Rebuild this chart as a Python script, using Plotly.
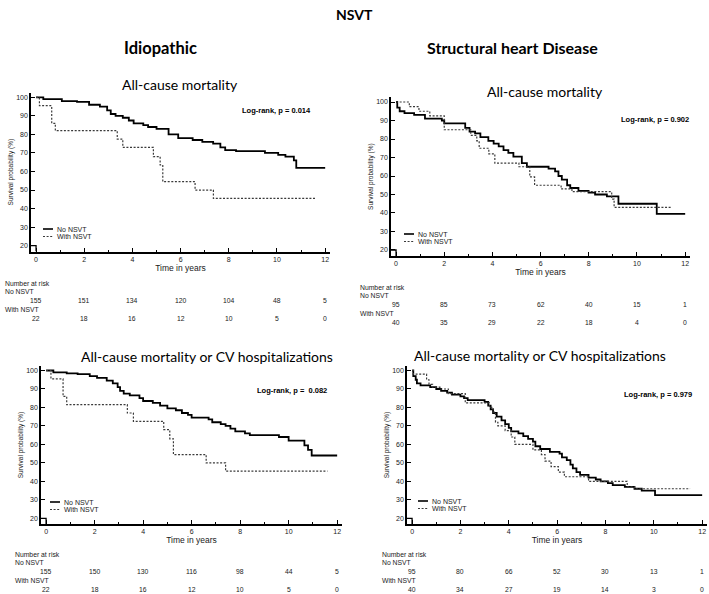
import plotly.graph_objects as go

W, H = 709, 594

# ---------------- data ----------------
# Panel 1: Idiopathic, All-cause mortality
p1_no_t = [0, 0.3, 1.07, 1.7, 2.2, 2.65, 2.95, 3.1, 3.3, 3.6, 3.85, 4.05, 4.45, 4.65, 5.0, 5.5, 5.9, 6.5, 6.9, 7.35, 7.65, 7.85, 8.3, 9.5, 10.05, 10.35, 10.7, 10.8, 12.0]
p1_no_s = [100, 99, 98, 97.5, 96, 95, 93, 91, 90, 89, 87.5, 86, 85, 84, 83, 80, 78, 77, 76, 75, 73, 71.5, 71, 70, 69, 68, 66, 62, 62]
p1_w_t = [0, 0.14, 0.65, 0.8, 3.37, 3.6, 4.87, 5.15, 5.26, 6.6, 7.36, 11.6]
p1_w_s = [100, 95.5, 86, 82, 77.5, 73, 68, 63.5, 54.5, 50, 45.5, 45.5]

# Panel 2: Structural heart disease, All-cause mortality
p2_no_t = [0, 0.05, 0.15, 0.35, 0.75, 1.2, 1.9, 2.0, 2.87, 3.05, 3.28, 3.5, 3.83, 4.05, 4.26, 4.46, 4.66, 4.87, 5.22, 5.43, 6.33, 6.6, 6.74, 6.88, 7.1, 7.23, 7.57, 7.99, 8.26, 8.75, 9.23, 10.82, 12.0]
p2_no_s = [100, 97, 95, 94, 93, 91, 90, 88.5, 86, 84, 83, 81, 79, 77.5, 76, 74, 72.5, 70.5, 67, 65, 64, 62.5, 60, 58, 55, 53.5, 52, 51, 50, 49, 45, 39.5, 39.5]
p2_w_t = [0, 0.55, 0.95, 1.4, 2.0, 3.1, 3.35, 3.45, 3.85, 4.1, 5.1, 5.55, 5.75, 6.85, 7.3, 8.95, 9.05, 11.45]
p2_w_s = [100, 97.5, 95, 92.5, 85, 82, 79, 75, 72, 67, 65, 59.5, 55, 53, 51.5, 47.5, 43, 43]

# Panel 3: Idiopathic, All-cause mortality or CV hospitalizations
p3_no_t = [0, 0.3, 0.85, 1.3, 1.8, 2.1, 2.5, 2.75, 2.95, 3.05, 3.2, 3.45, 3.85, 4.0, 4.4, 4.7, 5.0, 5.35, 5.6, 5.85, 6.0, 6.7, 6.85, 7.2, 7.4, 7.6, 7.8, 8.2, 8.4, 9.6, 10.0, 10.65, 10.8, 10.95, 12.0]
p3_no_s = [100, 99, 98.5, 98, 97, 96, 94.5, 93, 91, 89, 87.5, 86.5, 85, 83.5, 82.5, 81, 79.5, 78.5, 77, 76, 74.5, 73.5, 72, 71, 70, 68.5, 67, 66, 65, 64, 62, 59.5, 57, 54, 54]
p3_w_t = [0, 0.2, 0.7, 0.85, 3.35, 3.6, 4.85, 5.1, 5.25, 6.6, 7.4, 11.6]
p3_w_s = [100, 95.5, 86, 81.5, 77, 72.5, 68, 63, 54.5, 50, 45.5, 45.5]

# Panel 4: Structural heart disease, All-cause mortality or CV hospitalizations
p4_no_t = [0, 0.05, 0.15, 0.2, 0.35, 0.75, 1.0, 1.2, 1.45, 1.65, 2.0, 2.15, 2.3, 3.0, 3.15, 3.25, 3.35, 3.5, 3.7, 3.85, 4.0, 4.1, 4.4, 4.6, 4.8, 5.0, 5.1, 5.3, 5.7, 6.1, 6.2, 6.4, 6.55, 6.65, 6.8, 6.95, 7.3, 7.6, 7.8, 8.1, 8.3, 8.8, 9.2, 9.5, 10.05, 12.0]
p4_no_s = [100, 97, 95, 93, 92, 91, 90, 89, 88, 87, 86, 85, 84, 83, 81, 79, 77, 75, 73, 71, 69, 67, 66, 64.5, 63, 61.5, 59, 57.5, 56, 55, 53, 51.5, 49, 47, 45, 43.5, 42, 41, 40, 39, 38, 37, 36, 35, 32.5, 32.5]
p4_w_t = [0, 0.05, 0.6, 0.7, 0.85, 1.15, 1.5, 2.2, 3.2, 3.35, 3.45, 3.55, 3.85, 4.1, 4.25, 5.0, 5.35, 5.5, 5.75, 6.05, 6.3, 7.3, 8.9, 9.2, 11.5]
p4_w_s = [100, 98, 95, 92.5, 91, 90, 87.5, 82.5, 80, 77.5, 72, 70, 67.5, 64, 60, 57, 54.5, 51, 48, 45, 42.5, 40, 37, 36, 36]

risk_times = [0, 2, 4, 6, 8, 10, 12]
p1_risk_no = [155, 151, 134, 120, 104, 48, 5]
p1_risk_w = [22, 18, 16, 12, 10, 5, 0]
p2_risk_no = [95, 85, 73, 62, 40, 15, 1]
p2_risk_w = [40, 35, 29, 22, 18, 4, 0]
p3_risk_no = [155, 150, 130, 116, 98, 44, 5]
p3_risk_w = [22, 18, 16, 12, 10, 5, 0]
p4_risk_no = [95, 80, 66, 52, 30, 13, 1]
p4_risk_w = [40, 34, 27, 19, 14, 3, 0]

panel_titles = ["All-cause mortality", "All-cause mortality",
                "All-cause mortality or CV hospitalizations", "All-cause mortality or CV hospitalizations"]
logrank = ["Log-rank, p = 0.014", "Log-rank, p = 0.902", "Log-rank, p =  0.082", "Log-rank, p = 0.979"]
series_names = ["No NSVT", "With NSVT"]

# ---------------- layout helpers ----------------
def px(x):
    return x / W

def py(y):
    return 1 - y / H

XR = [-0.21, 12.2]
YR = [16.8, 102.5]

# pixel boxes of each plot area: x0, x1, ytop, ybottom
boxes = [
    (31, 330, 92.7, 251.6),
    (391, 690, 97.4, 255.9),
    (41, 342, 365.9, 524.2),
    (407, 707, 365.9, 524.2),
]

curves = [
    (p1_no_t, p1_no_s, p1_w_t, p1_w_s),
    (p2_no_t, p2_no_s, p2_w_t, p2_w_s),
    (p3_no_t, p3_no_s, p3_w_t, p3_w_s),
    (p4_no_t, p4_no_s, p4_w_t, p4_w_s),
]
risks = [(p1_risk_no, p1_risk_w), (p2_risk_no, p2_risk_w),
         (p3_risk_no, p3_risk_w), (p4_risk_no, p4_risk_w)]

# text positions in pixels
title_pos = [(180, 84), (545, 91), (207, 356), (540, 355)]
logrank_pos = [(276, 111), (655, 119), (292, 390), (658, 394)]
legend_pos = [(43, 229), (404, 234), (50, 502), (418, 501)]  # left of line sample, y of first row
table_pos = [(3, 283), (358, 287), (13, 554), (380, 554)]   # "Number at risk" left / middle

SANS = "Liberation Sans, Arial, sans-serif"
TITLEF = "Lato, Open Sans, sans-serif"
TXT = "#1a1a1a"
DOT = "2px,1.6px"

fig = go.Figure()
annotations = []
shapes = []
layout = {}

for i in range(4):
    sfx = "" if i == 0 else str(i + 1)
    xa, ya = "x" + sfx, "y" + sfx
    tn, sn, tw, sw = curves[i]
    fig.add_trace(go.Scatter(x=tn, y=sn, mode="lines", line_shape="hv",
                             line=dict(color="black", width=1.8),
                             name=series_names[0], xaxis=xa, yaxis=ya, showlegend=False))
    fig.add_trace(go.Scatter(x=tw, y=sw, mode="lines", line_shape="hv",
                             line=dict(color="#3a3a3a", width=1.2, dash=DOT),
                             name=series_names[1], xaxis=xa, yaxis=ya, showlegend=False))
    x0, x1, yt, yb = boxes[i]
    layout["xaxis" + sfx] = dict(
        domain=[px(x0), px(x1)], range=XR, anchor=ya,
        showgrid=False, zeroline=False, showline=True, linecolor="black", linewidth=1.5,
        ticks="inside", ticklen=4, tickwidth=1.2, tickcolor="black",
        tick0=0, dtick=2,
        minor=dict(ticks="inside", dtick=1, tick0=0, ticklen=2, tickcolor="black", tickwidth=1),
        tickfont=dict(family=SANS, size=7, color=TXT),
        title=dict(text="Time in years", font=dict(family=SANS, size=8.5, color=TXT), standoff=3),
        fixedrange=True,
    )
    layout["yaxis" + sfx] = dict(
        domain=[py(yb), py(yt)], range=YR, anchor=xa,
        showgrid=False, zeroline=False, showline=True, linecolor="black", linewidth=1.5,
        ticks="inside", ticklen=4, tickwidth=1.2, tickcolor="black",
        tick0=20, dtick=10,
        tickfont=dict(family=SANS, size=7, color=TXT),
        title=dict(text="Survival probability (%)", font=dict(family=SANS, size=6.5, color=TXT), standoff=2),
        fixedrange=True,
    )
    # axis break marker near the origin
    shapes.append(dict(type="path", xref=xa, yref=ya,
                       path=f"M {XR[0]},20 L 0,20 L 0,{YR[0]}",
                       line=dict(color="black", width=1.3)))
    # panel title
    tx, ty = title_pos[i]
    annotations.append(dict(text=panel_titles[i], x=px(tx), y=py(ty), xref="paper", yref="paper",
                            showarrow=False, xanchor="center", yanchor="middle",
                            font=dict(family=TITLEF, size=14, color="black")))
    # log-rank
    lx, ly = logrank_pos[i]
    annotations.append(dict(text="<b>" + logrank[i] + "</b>", x=px(lx), y=py(ly), xref="paper", yref="paper",
                            showarrow=False, xanchor="center", yanchor="middle",
                            font=dict(family=SANS, size=7.5, color="black")))
    # manual legend
    gx, gy = legend_pos[i]
    shapes.append(dict(type="line", xref="paper", yref="paper", x0=px(gx), x1=px(gx + 10),
                       y0=py(gy), y1=py(gy), line=dict(color="black", width=1.6)))
    shapes.append(dict(type="line", xref="paper", yref="paper", x0=px(gx), x1=px(gx + 10),
                       y0=py(gy + 7.5), y1=py(gy + 7.5), line=dict(color="#3a3a3a", width=1, dash=DOT)))
    for k, nm in enumerate(series_names):
        annotations.append(dict(text=nm, x=px(gx + 12), y=py(gy + 7.5 * k), xref="paper", yref="paper",
                                showarrow=False, xanchor="left", yanchor="middle",
                                font=dict(family=SANS, size=7, color=TXT)))
    # number at risk table
    nx, ny = table_pos[i]
    rows = [("Number at risk", ny), ("No NSVT", ny + 8.7), ("With NSVT", ny + 26.3)]
    for txt, yy in rows:
        annotations.append(dict(text=txt, x=px(nx), y=py(yy), xref="paper", yref="paper",
                                showarrow=False, xanchor="left", yanchor="middle",
                                font=dict(family=SANS, size=6.8, color=TXT)))
    rn, rw = risks[i]
    for k, t in enumerate(risk_times):
        annotations.append(dict(text=str(rn[k]), x=t, y=py(ny + 17.5), xref=xa, yref="paper",
                                showarrow=False, xanchor="center", yanchor="middle",
                                font=dict(family=SANS, size=6.8, color=TXT)))
        annotations.append(dict(text=str(rw[k]), x=t, y=py(ny + 35), xref=xa, yref="paper",
                                showarrow=False, xanchor="center", yanchor="middle",
                                font=dict(family=SANS, size=6.8, color=TXT)))

# overall headings
annotations.append(dict(text="<b>NSVT</b>", x=px(354), y=py(14), xref="paper", yref="paper",
                        showarrow=False, xanchor="center", yanchor="middle",
                        font=dict(family=TITLEF, size=14, color="black")))
annotations.append(dict(text="<b>Idiopathic</b>", x=px(160), y=py(48), xref="paper", yref="paper",
                        showarrow=False, xanchor="center", yanchor="middle",
                        font=dict(family=TITLEF, size=16.5, color="black")))
annotations.append(dict(text="<b>Structural heart Disease</b>", x=px(512), y=py(48), xref="paper", yref="paper",
                        showarrow=False, xanchor="center", yanchor="middle",
                        font=dict(family=TITLEF, size=16, color="black")))

fig.update_layout(
    width=W, height=H,
    margin=dict(l=0, r=0, t=0, b=0),
    paper_bgcolor="white", plot_bgcolor="white",
    showlegend=False,
    annotations=annotations, shapes=shapes,
    **layout,
)

fig.write_html("out.html", config={"displayModeBar": False},
               post_script="document.body.style.margin='0';document.body.style.overflow='hidden';")
